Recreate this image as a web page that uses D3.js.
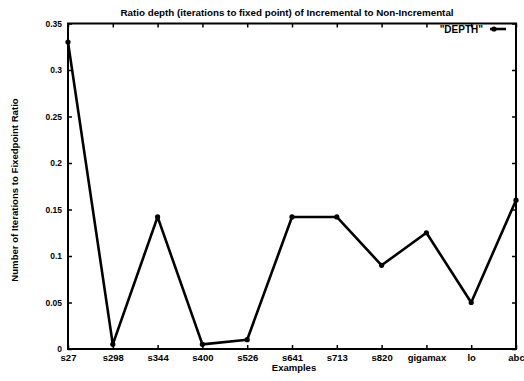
<!DOCTYPE html>
<html><head><meta charset="utf-8">
<script src="https://cdn.jsdelivr.net/npm/d3@7"></script>
<style>body{margin:0;background:#fff}svg{display:block}text{font-family:"Liberation Sans",Arial,sans-serif;font-weight:bold;fill:#000}</style>
</head><body>
<script>
const categories = ["s27","s298","s344","s400","s526","s641","s713","s820","gigamax","lo","abc"];
const depth = [0.33,0.005,0.142,0.005,0.01,0.142,0.142,0.09,0.125,0.05,0.16];
const yTicks = [0,0.05,0.1,0.15,0.2,0.25,0.3,0.35];
const yTickLabels = ["0","0.05","0.1","0.15","0.2","0.25","0.3","0.35"];

const W=524,H=381;
const m={l:68,r:516,t:23.5,b:349};
const svg=d3.select("body").append("svg").attr("width",W).attr("height",H);
const x=d3.scalePoint().domain(categories).range([m.l,m.r]);
const y=d3.scaleLinear().domain([0,0.35]).range([m.b,m.t]);

const fmt=(d)=>yTickLabels[yTicks.indexOf(d)];
const gB=svg.append("g").attr("transform",`translate(0,${m.b})`).call(d3.axisBottom(x).tickSize(-4).tickPadding(7));
const gT=svg.append("g").attr("transform",`translate(0,${m.t})`).call(d3.axisTop(x).tickSize(-4).tickFormat(""));
const gL=svg.append("g").attr("transform",`translate(${m.l},0)`).call(d3.axisLeft(y).tickValues(yTicks).tickFormat(fmt).tickSize(-4).tickPadding(6));
const gR=svg.append("g").attr("transform",`translate(${m.r},0)`).call(d3.axisRight(y).tickValues(yTicks).tickFormat("").tickSize(-4));
[gB,gT,gL,gR].forEach(g=>{g.selectAll(".domain").remove();g.selectAll("line").attr("stroke","#000").attr("stroke-width",1.5);g.selectAll("text").attr("font-size",8.5).attr("fill","#000");});
gB.selectAll("text").attr("dy","0.5em").attr("font-size",9.5);
svg.append("rect").attr("x",m.l).attr("y",m.t).attr("width",m.r-m.l).attr("height",m.b-m.t)
  .attr("fill","none").attr("stroke","#000").attr("stroke-width",2);

const line=d3.line().x((d,i)=>x(categories[i])).y(d=>y(d));
svg.append("path").datum(depth).attr("d",line).attr("fill","none").attr("stroke","#000").attr("stroke-width",2.6).attr("stroke-linejoin","round");
svg.selectAll("circle.pt").data(depth).join("circle").attr("class","pt")
  .attr("cx",(d,i)=>x(categories[i])).attr("cy",d=>y(d)).attr("r",2.6).attr("fill","#000");

svg.append("text").attr("x",287).attr("y",16).attr("text-anchor","middle").attr("font-size",9.8).text("Ratio depth (iterations to fixed point) of Incremental to Non-Incremental");
svg.append("text").attr("x",294).attr("y",371).attr("text-anchor","middle").attr("font-size",9.5).text("Examples");
svg.append("text").attr("transform","translate(18,190) rotate(-90)").attr("text-anchor","middle").attr("font-size",9.6).text("Number of Iterations to Fixedpoint Ratio");

svg.append("text").attr("x",483).attr("y",32.5).attr("text-anchor","end").attr("font-size",10).text("\"DEPTH\"");
svg.append("line").attr("x1",490).attr("x2",506).attr("y1",29).attr("y2",29).attr("stroke","#000").attr("stroke-width",2.6);
svg.append("circle").attr("cx",494).attr("cy",29).attr("r",2.6).attr("fill","#000");
</script>
</body></html>
